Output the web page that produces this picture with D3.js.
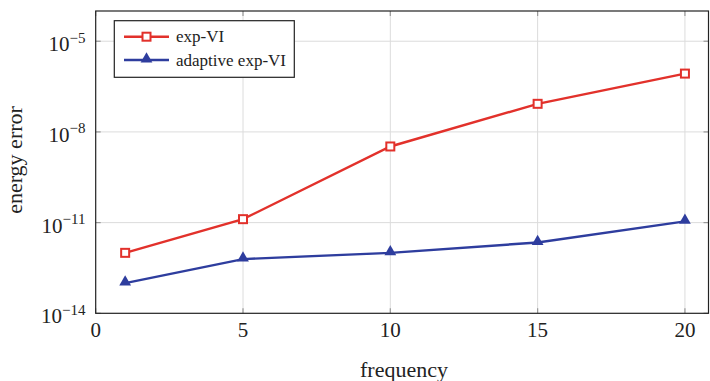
<!DOCTYPE html>
<html>
<head>
<meta charset="utf-8">
<script src="https://cdn.jsdelivr.net/npm/d3@7"></script>
<style>
  body { margin: 0; background: #fff; }
  text { font-family: "Liberation Serif", "Times New Roman", serif; fill: #222; }
</style>
</head>
<body>
<div id="chart"></div>
<script>
var frequency = [1, 5, 10, 15, 20];
var expVI = [1e-12, 1.3e-11, 3.3e-9, 8.5e-8, 8.5e-7];
var adaptiveExpVI = [1e-13, 6.2e-13, 1e-12, 2.2e-12, 1.1e-11];
var xTicks = [0, 5, 10, 15, 20];
var yTickExps = [-14, -11, -8, -5];

var width = 710, height = 381,
    margin = {top: 11, right: 1.5, bottom: 67.7, left: 95.7};

var svg = d3.select("#chart")
  .append("svg")
    .attr("width", width)
    .attr("height", height);

var x = d3.scaleLinear()
    .domain([0, 20.8])
    .range([margin.left, width - margin.right]);

var y = d3.scaleLog()
    .domain([1e-14, 1e-4])
    .range([height - margin.bottom, margin.top]);

// grid
svg.append("g").selectAll("line.gx")
    .data(xTicks.slice(1))
  .enter().append("line")
    .attr("x1", function(d){ return x(d); })
    .attr("x2", function(d){ return x(d); })
    .attr("y1", y.range()[0])
    .attr("y2", y.range()[1])
    .style("stroke", "#dcdcdc")
    .style("stroke-width", 1);

svg.append("g").selectAll("line.gy")
    .data(yTickExps.slice(1))
  .enter().append("line")
    .attr("x1", x.range()[0])
    .attr("x2", x.range()[1])
    .attr("y1", function(d){ return y(Math.pow(10, d)); })
    .attr("y2", function(d){ return y(Math.pow(10, d)); })
    .style("stroke", "#dcdcdc")
    .style("stroke-width", 1);

// small inner ticks
var tickLen = 5;
xTicks.forEach(function(d) {
  svg.append("line").attr("x1", x(d)).attr("x2", x(d))
    .attr("y1", y.range()[0]).attr("y2", y.range()[0] - tickLen)
    .style("stroke", "#999").style("stroke-width", 1.2);
  svg.append("line").attr("x1", x(d)).attr("x2", x(d))
    .attr("y1", y.range()[1]).attr("y2", y.range()[1] + tickLen)
    .style("stroke", "#999").style("stroke-width", 1.2);
});
yTickExps.forEach(function(e) {
  var yy = y(Math.pow(10, e));
  svg.append("line").attr("x1", x.range()[0]).attr("x2", x.range()[0] + tickLen)
    .attr("y1", yy).attr("y2", yy)
    .style("stroke", "#999").style("stroke-width", 1.2);
  svg.append("line").attr("x1", x.range()[1]).attr("x2", x.range()[1] - tickLen)
    .attr("y1", yy).attr("y2", yy)
    .style("stroke", "#999").style("stroke-width", 1.2);
});

// frame
svg.append("rect")
    .attr("x", x.range()[0])
    .attr("y", y.range()[1])
    .attr("width", x.range()[1] - x.range()[0])
    .attr("height", y.range()[0] - y.range()[1])
    .style("fill", "none")
    .style("stroke", "#222")
    .style("stroke-width", 1.2);

// x tick labels
svg.append("g").selectAll("text")
    .data(xTicks)
  .enter().append("text")
    .attr("x", function(d){ return x(d); })
    .attr("y", 337)
    .attr("text-anchor", "middle")
    .style("font-size", "21px")
    .text(function(d){ return d; });

// y tick labels: 10^e
var yl = svg.append("g").selectAll("text")
    .data(yTickExps)
  .enter().append("text")
    .attr("x", 85.5)
    .attr("y", function(d){ return y(Math.pow(10, d)) + 10; })
    .attr("text-anchor", "end")
    .style("font-size", "21px");
yl.append("tspan").text("10");
yl.append("tspan")
    .attr("dy", -8.5)
    .style("font-size", "15px")
    .text(function(d){ return "\u2212" + Math.abs(d); });

// axis labels
svg.append("text")
    .attr("x", 404)
    .attr("y", 376.5)
    .attr("text-anchor", "middle")
    .style("font-size", "22px")
    .text("frequency");

svg.append("text")
    .attr("transform", "translate(22,160) rotate(-90)")
    .attr("text-anchor", "middle")
    .style("font-size", "22px")
    .text("energy error");

// series
var red = "#e2312b", blue = "#2e3d9e";
var line = d3.line()
    .x(function(d){ return x(d[0]); })
    .y(function(d){ return y(d[1]); });

var redData = d3.zip(frequency, expVI),
    blueData = d3.zip(frequency, adaptiveExpVI);

svg.append("path").datum(redData)
    .attr("d", line)
    .style("fill", "none").style("stroke", red).style("stroke-width", 2.4);
svg.append("path").datum(blueData)
    .attr("d", line)
    .style("fill", "none").style("stroke", blue).style("stroke-width", 2.4);

var sq = 8;
svg.append("g").selectAll("rect")
    .data(redData)
  .enter().append("rect")
    .attr("x", function(d){ return x(d[0]) - sq / 2; })
    .attr("y", function(d){ return y(d[1]) - sq / 2; })
    .attr("width", sq).attr("height", sq)
    .style("fill", "#fff").style("stroke", red).style("stroke-width", 2);

var tri = d3.symbol().type(d3.symbolTriangle).size(60);
svg.append("g").selectAll("path")
    .data(blueData)
  .enter().append("path")
    .attr("d", tri)
    .attr("transform", function(d){ return "translate(" + x(d[0]) + "," + (y(d[1]) - 1) + ")"; })
    .style("fill", blue);

// legend
var lg = svg.append("g");
lg.append("rect")
    .attr("x", 114.3).attr("y", 20.7)
    .attr("width", 180).attr("height", 56.6)
    .style("fill", "#fff").style("stroke", "#222").style("stroke-width", 1.2);

var legendItems = [["exp-VI", red, "square"], ["adaptive exp-VI", blue, "triangle"]];
legendItems.forEach(function(item, i) {
  var ly = 36.7 + i * 23.3;
  lg.append("line")
    .attr("x1", 124).attr("x2", 169)
    .attr("y1", ly).attr("y2", ly)
    .style("stroke", item[1]).style("stroke-width", 2.4);
  if (item[2] == "square") {
    lg.append("rect")
      .attr("x", 146.5 - sq / 2).attr("y", ly - sq / 2)
      .attr("width", sq).attr("height", sq)
      .style("fill", "#fff").style("stroke", item[1]).style("stroke-width", 2);
  } else {
    lg.append("path")
      .attr("d", tri)
      .attr("transform", "translate(146.5," + (ly - 1) + ")")
      .style("fill", item[1]);
  }
  lg.append("text")
    .attr("x", 176).attr("y", ly + 5.5)
    .style("font-size", "17px")
    .text(item[0]);
});
</script>
</body>
</html>
